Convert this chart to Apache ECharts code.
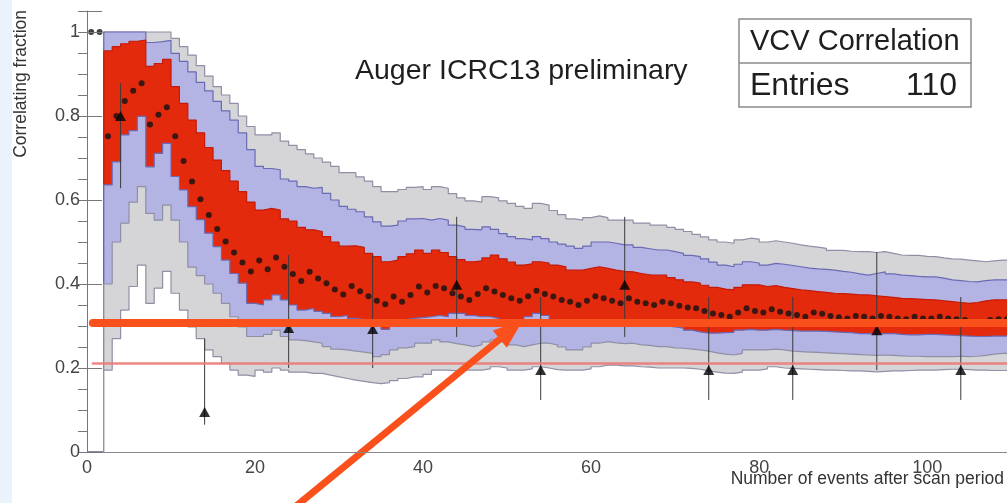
<!DOCTYPE html>
<html><head><meta charset="utf-8">
<script src="https://cdn.jsdelivr.net/npm/echarts@6/dist/echarts.min.js"></script>
<style>html,body{margin:0;padding:0;background:#fff}#c{width:1007px;height:503px}</style>
</head><body><div id="c"></div>
<script>
// Band boundaries per bin k = 0..109 (bin spans [k, k+1])
const grayUpper = [0,0,1,1,1,1,1,1,1,1,
0.985,0.965,0.945,0.92,0.895,0.87,0.85,0.83,0.80,0.775,
0.755,0.755,0.76,0.74,0.73,0.72,0.71,0.70,0.69,0.68,
0.665,0.665,0.655,0.645,0.632,0.62,0.62,0.625,0.63,0.632,
0.625,0.632,0.628,0.615,0.605,0.598,0.595,0.608,0.605,0.598,
0.592,0.585,0.58,0.592,0.588,0.575,0.565,0.555,0.552,0.558,
0.562,0.558,0.552,0.552,0.552,0.545,0.545,0.54,0.54,0.535,
0.53,0.525,0.518,0.512,0.505,0.5,0.497,0.505,0.509,0.507,
0.50,0.503,0.50,0.497,0.493,0.49,0.488,0.485,0.48,0.48,
0.478,0.477,0.477,0.475,0.477,0.473,0.469,0.468,0.468,0.466,
0.465,0.462,0.46,0.459,0.457,0.455,0.453,0.455,0.457,0.457];
const blueUpper = [0,0,1,1,1,1,1,0.975,0.977,0.98,
0.949,0.93,0.905,0.88,0.86,0.835,0.812,0.79,0.76,0.72,
0.68,0.675,0.672,0.65,0.645,0.632,0.628,0.63,0.616,0.60,
0.585,0.578,0.572,0.56,0.548,0.538,0.54,0.55,0.555,0.556,
0.552,0.556,0.552,0.54,0.536,0.53,0.529,0.536,0.53,0.52,
0.513,0.508,0.505,0.513,0.508,0.50,0.495,0.49,0.485,0.49,
0.50,0.50,0.497,0.493,0.493,0.487,0.484,0.481,0.481,0.477,
0.473,0.468,0.465,0.46,0.452,0.445,0.441,0.447,0.453,0.45,
0.445,0.449,0.447,0.444,0.441,0.438,0.436,0.435,0.433,0.43,
0.428,0.424,0.421,0.425,0.429,0.424,0.421,0.42,0.418,0.417,
0.417,0.414,0.41,0.408,0.406,0.405,0.408,0.41,0.41,0.41];
const redUpper = [0,0,0.955,0.965,0.972,0.978,0.981,0.918,0.925,0.935,
0.87,0.83,0.79,0.76,0.725,0.695,0.67,0.645,0.62,0.595,
0.576,0.58,0.576,0.555,0.55,0.535,0.529,0.525,0.513,0.50,
0.49,0.491,0.487,0.473,0.465,0.453,0.457,0.465,0.472,0.481,
0.473,0.481,0.475,0.465,0.458,0.453,0.455,0.462,0.469,0.46,
0.452,0.445,0.448,0.453,0.45,0.445,0.441,0.433,0.433,0.437,
0.441,0.437,0.433,0.43,0.429,0.425,0.422,0.421,0.421,0.415,
0.41,0.405,0.402,0.397,0.392,0.388,0.386,0.392,0.398,0.398,
0.394,0.396,0.392,0.389,0.386,0.384,0.382,0.38,0.378,0.377,
0.376,0.374,0.374,0.372,0.37,0.368,0.366,0.365,0.364,0.363,
0.362,0.36,0.358,0.356,0.354,0.356,0.36,0.362,0.362,0.362];
const redLower = [0,0,0.636,0.691,0.755,0.765,0.799,0.679,0.711,0.735,
0.656,0.624,0.584,0.553,0.521,0.489,0.457,0.425,0.402,0.354,
0.35,0.362,0.374,0.362,0.35,0.338,0.342,0.335,0.33,0.322,
0.325,0.318,0.315,0.31,0.305,0.292,0.305,0.315,0.318,0.32,
0.322,0.325,0.322,0.33,0.33,0.325,0.322,0.322,0.318,0.31,
0.308,0.31,0.322,0.33,0.325,0.31,0.306,0.305,0.303,0.305,
0.31,0.31,0.307,0.305,0.306,0.304,0.302,0.302,0.30,0.298,
0.295,0.29,0.286,0.283,0.283,0.284,0.285,0.29,0.292,0.29,
0.29,0.292,0.29,0.289,0.288,0.288,0.288,0.287,0.286,0.285,
0.284,0.282,0.282,0.28,0.282,0.282,0.28,0.279,0.279,0.28,
0.28,0.279,0.278,0.277,0.276,0.275,0.275,0.276,0.276,0.276];
const blueLower = [0,0,0.40,0.50,0.545,0.595,0.632,0.568,0.552,0.588,
0.552,0.50,0.44,0.42,0.40,0.378,0.354,0.322,0.298,0.275,
0.275,0.28,0.29,0.275,0.267,0.265,0.262,0.259,0.251,0.245,
0.243,0.24,0.238,0.235,0.227,0.232,0.243,0.248,0.251,0.259,
0.259,0.267,0.262,0.258,0.255,0.251,0.255,0.262,0.267,0.262,
0.255,0.251,0.255,0.259,0.259,0.255,0.25,0.243,0.243,0.25,
0.259,0.263,0.26,0.258,0.259,0.255,0.254,0.251,0.251,0.248,
0.247,0.245,0.243,0.24,0.236,0.233,0.231,0.235,0.243,0.243,
0.243,0.245,0.243,0.24,0.239,0.238,0.237,0.236,0.235,0.234,
0.233,0.232,0.231,0.23,0.231,0.23,0.229,0.228,0.228,0.227,
0.227,0.227,0.227,0.228,0.227,0.228,0.23,0.233,0.235,0.235];
const grayLower = [0,0,0.195,0.27,0.338,0.394,0.445,0.354,0.39,0.43,
0.378,0.338,0.298,0.27,0.243,0.227,0.211,0.195,0.183,0.18,
0.195,0.19,0.2,0.195,0.19,0.19,0.187,0.187,0.183,0.179,
0.175,0.171,0.168,0.165,0.163,0.165,0.17,0.175,0.179,0.179,
0.185,0.195,0.195,0.193,0.195,0.195,0.195,0.198,0.203,0.2,
0.195,0.195,0.198,0.203,0.2,0.196,0.195,0.195,0.195,0.198,
0.203,0.207,0.207,0.205,0.205,0.203,0.202,0.2,0.2,0.2,
0.2,0.199,0.197,0.193,0.19,0.188,0.187,0.19,0.195,0.195,
0.198,0.203,0.2,0.199,0.198,0.197,0.196,0.195,0.195,0.194,
0.193,0.193,0.192,0.191,0.192,0.193,0.193,0.194,0.195,0.195,
0.195,0.196,0.197,0.197,0.196,0.195,0.195,0.194,0.194,0.194];
const median = [1.0,1.0,0.752,0.80,0.836,0.86,0.878,0.78,0.803,0.821,
0.752,0.693,0.644,0.602,0.564,0.531,0.501,0.475,0.451,0.43,
0.456,0.435,0.463,0.441,0.424,0.407,0.429,0.413,0.402,0.387,
0.375,0.395,0.383,0.371,0.36,0.352,0.37,0.358,0.374,0.394,
0.38,0.395,0.39,0.378,0.37,0.362,0.376,0.39,0.382,0.374,
0.366,0.36,0.371,0.384,0.376,0.37,0.362,0.358,0.35,0.36,
0.371,0.366,0.36,0.354,0.366,0.358,0.354,0.35,0.358,0.354,
0.348,0.344,0.342,0.336,0.33,0.326,0.322,0.332,0.342,0.336,
0.332,0.34,0.334,0.33,0.326,0.322,0.332,0.329,0.324,0.321,
0.318,0.324,0.322,0.318,0.324,0.322,0.318,0.316,0.322,0.318,
0.318,0.322,0.318,0.316,0.314,0.31,0.31,0.314,0.316,0.316];
// Measured points (triangles) with error bars
const triX  = [4, 14, 24, 34, 44, 54, 64, 74, 84, 94, 104];
const triY  = [0.80, 0.095, 0.295, 0.293, 0.398, 0.195, 0.398, 0.195, 0.195, 0.29, 0.195];
const triLo = [0.628, 0.065, 0.2, 0.2, 0.274, 0.124, 0.274, 0.124, 0.124, 0.195, 0.124];
const triHi = [0.878, 0.27, 0.469, 0.469, 0.56, 0.369, 0.56, 0.369, 0.369, 0.476, 0.369];
// Reference lines and annotation arrow
const thickLineY = 0.307, thinLineY = 0.211, refLineStart = 0.7, refLineEnd = 112;
const arrowFrom = [24.2, -0.14], arrowTo = [51.9, 0.314];
const xTicks = [0, 20, 40, 60, 80, 100];
const yTicks = [0, 0.2, 0.4, 0.6, 0.8, 1];

const FONT = '"Liberation Sans", Arial, sans-serif';
const chart = echarts.init(document.getElementById('c'));
function steps(arr){ const d = arr.map((v,i)=>[i,v]); d.push([arr.length, arr[arr.length-1]]); return d; }
function band(arr, fill, line, z){
  return {type:'line', data: steps(arr), step:'end', symbol:'none', showSymbol:false, z,
    silent:true, lineStyle:{color:line, width:1.2}, areaStyle:{color:fill, opacity:1, origin:'start'}};
}
const GRAY='#d5d5d7', GRAYL='#8f8fa6', BLUE='#b3b3e4', BLUEL='#6a6ab4', RED='#e42a0c', REDL='#c41a06';
const ORANGE='#f9501c';

const option = {
  animation:false,
  backgroundColor:'#ffffff',
  grid:{left:87, right:0, top:11, bottom:51, outerBoundsMode:'none', containLabel:false},
  xAxis:[{type:'value', min:0, max:109.5, interval:20, z:20,
    axisLine:{show:true, onZero:false, lineStyle:{color:'#777', width:1}},
    axisTick:{show:false}, splitLine:{show:false},
    axisLabel:{fontSize:18, color:'#444', fontFamily:FONT, margin:7,
      formatter:v => xTicks.indexOf(v) >= 0 ? String(v) : ''}},
    {type:'value', position:'top', min:0, max:109.5, z:20,
    axisLine:{show:true, lineStyle:{color:'#888', width:1}}, axisTick:{show:false},
    axisLabel:{show:false}, splitLine:{show:false}}],
  yAxis:[{type:'value', min:0, max:1.05, interval:0.2, z:20,
    axisLine:{show:true, lineStyle:{color:'#777', width:1}},
    axisTick:{show:true, inside:true, length:15, lineStyle:{color:'#777'}},
    splitLine:{show:false},
    axisLabel:{fontSize:18, color:'#444', fontFamily:FONT, margin:7,
      formatter:v => { const t = yTicks.find(q => Math.abs(q - v) < 1e-6); return t === undefined ? '' : String(t); }}},
    {type:'value', min:0, max:1.05, interval:0.05, z:20,
    axisLine:{show:false}, axisTick:{show:true, inside:true, length:9, lineStyle:{color:'#777'}},
    axisLabel:{show:false}, splitLine:{show:false}}],
  series:[
    band(grayUpper, GRAY, GRAYL, 2),
    band(blueUpper, BLUE, BLUEL, 3),
    band(redUpper, RED, REDL, 4),
    band(redLower, BLUE, BLUEL, 5),
    band(blueLower, GRAY, GRAYL, 6),
    band(grayLower, '#ffffff', GRAYL, 7),
    {type:'scatter', z:8, symbol:'circle', symbolSize:6, silent:true,
      itemStyle:{color:'#111'}, data: median.map((v,i)=>[i+0.5, v])},
    {type:'custom', z:9, silent:true, data: triX.map((x,i)=>[x, triLo[i], triHi[i]]),
      renderItem(params, api){
        const a = api.coord([api.value(0), api.value(1)]);
        const b = api.coord([api.value(0), api.value(2)]);
        return {type:'line', shape:{x1:a[0], y1:a[1], x2:b[0], y2:b[1]}, style:{stroke:'#3a3a3a', lineWidth:1}};
      }},
    {type:'scatter', z:10, symbol:'triangle', symbolSize:[11,10], silent:true,
      itemStyle:{color:'#000'}, data: triX.map((x,i)=>[x, triY[i]])},
    {type:'custom', z:11, silent:true, clip:false,
      data:[[refLineStart, refLineEnd, thinLineY, 0],[refLineStart, refLineEnd, thickLineY, 1]],
      renderItem(params, api){
        const a = api.coord([api.value(0), api.value(2)]);
        const b = api.coord([api.value(1), api.value(2)]);
        const thick = api.value(3) === 1;
        return {type:'line', shape:{x1:a[0], y1:a[1], x2:b[0], y2:b[1]},
          style:{stroke: thick ? ORANGE : 'rgba(238,120,120,0.9)', lineWidth: thick ? 8 : 2.5, lineCap:'round'}};
      }},
    {type:'custom', z:12, silent:true, clip:false,
      data:[[arrowFrom[0], arrowFrom[1], arrowTo[0], arrowTo[1]]],
      renderItem(params, api){
        const a = api.coord([api.value(0), api.value(1)]);
        const b = api.coord([api.value(2), api.value(3)]);
        const dx = b[0]-a[0], dy = b[1]-a[1], L = Math.hypot(dx, dy);
        const ux = dx/L, uy = dy/L, nx = -uy, ny = ux;
        const hl = 30, hw = 11;
        const base = [b[0]-ux*hl, b[1]-uy*hl];
        return {type:'group', children:[
          {type:'line', shape:{x1:a[0], y1:a[1], x2:base[0]+ux*4, y2:base[1]+uy*4}, style:{stroke:ORANGE, lineWidth:7}},
          {type:'polygon', shape:{points:[b, [base[0]+nx*hw, base[1]+ny*hw], [base[0]-nx*hw, base[1]-ny*hw]]}, style:{fill:ORANGE}}
        ]};
      }}
  ],
  graphic:[
    {type:'rect', z:-1, shape:{x:0, y:0, width:12, height:503}, style:{fill:'#eaf3fb'}},
    {type:'text', z:100, x:355, y:71, style:{text:'Auger ICRC13 preliminary', fontSize:28.5, fontFamily:FONT, fill:'#1e1e1e', verticalAlign:'middle'}},
    {type:'rect', z:100, shape:{x:739, y:19, width:232, height:88}, style:{fill:'#fff', stroke:'#8a8a8a', lineWidth:1.5}},
    {type:'line', z:101, shape:{x1:739, y1:63, x2:971, y2:63}, style:{stroke:'#8a8a8a', lineWidth:1.5}},
    {type:'text', z:101, x:750, y:42, style:{text:'VCV Correlation', fontSize:29, fontFamily:FONT, fill:'#1e1e1e', verticalAlign:'middle'}},
    {type:'text', z:101, x:750, y:86, style:{text:'Entries', fontSize:32, fontFamily:FONT, fill:'#1e1e1e', verticalAlign:'middle'}},
    {type:'text', z:101, x:957, y:86, style:{text:'110', fontSize:32, fontFamily:FONT, fill:'#1e1e1e', align:'right', verticalAlign:'middle'}},
    {type:'text', z:100, x:21, y:10, rotation:Math.PI/2, style:{text:'Correlating fraction', fontSize:17.5, fontFamily:FONT, fill:'#333', align:'right', verticalAlign:'middle'}},
    {type:'text', z:100, x:1004, y:479, style:{text:'Number of events after scan period', fontSize:17.5, fontFamily:FONT, fill:'#333', align:'right', verticalAlign:'middle'}}
  ]
};
chart.setOption(option);
</script></body></html>
